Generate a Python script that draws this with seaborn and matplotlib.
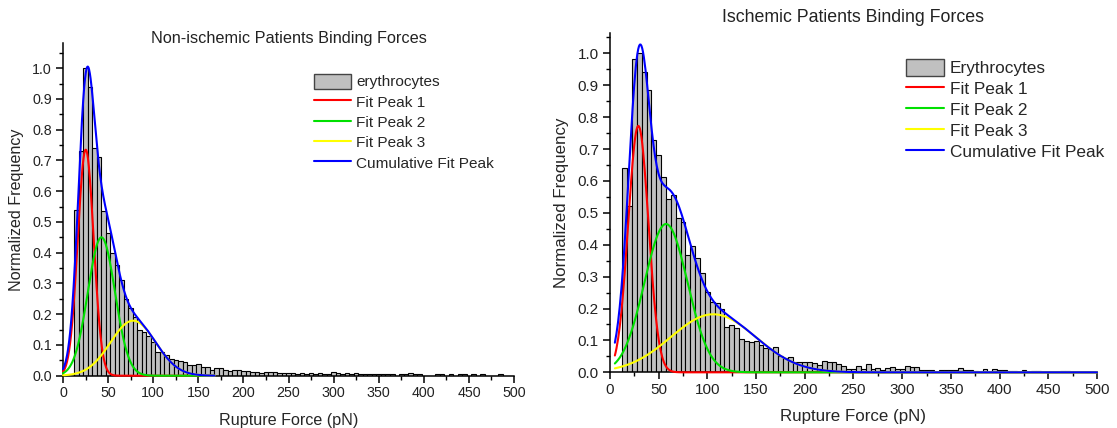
import numpy as np
import pandas as pd
import matplotlib
matplotlib.use("Agg")
import matplotlib.pyplot as plt
import seaborn as sns
from matplotlib.ticker import MultipleLocator
from matplotlib.patches import Patch
from matplotlib.lines import Line2D

# ── Histogram data (normalized frequency per 5 pN bin, first bin 12.5–17.5 pN) ──
BIN_START = 12.5
BIN_WIDTH = 5.0

NONISCH_FREQ = [
    0.54, 0.73, 1.00, 0.94, 0.74, 0.71, 0.535, 0.463, 0.40, 0.36,      # 15–60
    0.31, 0.25, 0.22, 0.19, 0.149, 0.143, 0.129, 0.11, 0.078, 0.078,  # 65–110
    0.067, 0.053, 0.051, 0.048, 0.046, 0.035, 0.035, 0.037, 0.027, 0.027,  # 115–160
    0.018, 0.024, 0.024, 0.018, 0.015, 0.017, 0.019, 0.014, 0.014, 0.012,  # 165–210
    0.011, 0.009, 0.012, 0.012, 0.012, 0.009, 0.008, 0.008, 0.008, 0.007,  # 215–260
    0.010, 0.007, 0.009, 0.007, 0.008, 0.007, 0.005, 0.011, 0.008, 0.007,  # 265–310
    0.010, 0.005, 0.008, 0.005, 0.004, 0.004, 0.004, 0.004, 0.004, 0.004,  # 315–360
    0.004, 0.0, 0.005, 0.005, 0.008, 0.005, 0.005, 0.0, 0.0, 0.0,          # 365–410
    0.005, 0.005, 0.0, 0.005, 0.0, 0.005, 0.005, 0.0, 0.005, 0.0,          # 415–460
    0.005, 0.0, 0.0, 0.0, 0.005,                                           # 465–485
]

ISCH_FREQ = [
    0.642, 0.52, 0.984, 1.00, 0.943, 0.885, 0.73, 0.68, 0.613, 0.545,      # 15–60
    0.556, 0.485, 0.472, 0.368, 0.397, 0.36, 0.312, 0.253, 0.222, 0.216,   # 65–110
    0.20, 0.143, 0.148, 0.138, 0.104, 0.098, 0.096, 0.098, 0.086, 0.075,   # 115–160
    0.072, 0.078, 0.05, 0.045, 0.047, 0.033, 0.033, 0.033, 0.033, 0.03,   # 165–210
    0.023, 0.037, 0.031, 0.031, 0.025, 0.021, 0.01, 0.01, 0.019, 0.009,   # 215–260
    0.025, 0.01, 0.013, 0.007, 0.013, 0.016, 0.01, 0.01, 0.019, 0.017,    # 265–310
    0.017, 0.008, 0.007, 0.006, 0.002, 0.006, 0.006, 0.008, 0.008, 0.013, # 315–360
    0.007, 0.006, 0.004, 0.0, 0.009, 0.002, 0.009, 0.007, 0.006, 0.004,   # 365–410
    0.004, 0.0, 0.007, 0.0, 0.005, 0.005, 0.0, 0.0, 0.0, 0.0,             # 415–460
    0.005, 0.005,                                                          # 465–470
]

# ── Gaussian fit peaks: (centre pN, amplitude, sigma pN) ────────────────────
NONISCH_PEAKS = [(25.2, 0.735, 8.8), (42.6, 0.45, 15.0), (77.7, 0.179, 25.0)]
ISCH_PEAKS    = [(29.1, 0.773, 10.4), (57.5, 0.465, 22.1), (106.0, 0.182, 43.6)]
NONISCH_FIT_RANGE = (0, 168)
ISCH_FIT_RANGE    = (5, 500)

PEAK_COLORS = ["#ff0000", "#00e000", "#ffff00"]
CUM_COLOR   = "#0000ff"
BAR_COLOR   = "#c0c0c0"

# ── Style ──────────────────────────────────────────────────────────────────
sns.set_theme(style="ticks")
plt.rcParams.update({
    "font.family": ["Liberation Sans", "DejaVu Sans"],
    "axes.spines.top": False,
    "axes.spines.right": False,
    "axes.linewidth": 1.1,
    "axes.edgecolor": "black",
    "xtick.color": "black",
    "ytick.color": "black",
    "xtick.labelcolor": "#222222",
    "ytick.labelcolor": "#222222",
    "xtick.direction": "out",
    "ytick.direction": "out",
    "xtick.major.size": 5,
    "ytick.major.size": 5,
    "xtick.minor.size": 3,
    "ytick.minor.size": 3,
    "xtick.major.width": 1.1,
    "ytick.major.width": 1.1,
    "xtick.minor.width": 1.0,
    "ytick.minor.width": 1.0,
    "xtick.major.pad": 2.5,
    "ytick.major.pad": 3,
})


def gauss(x, c, a, s):
    return a * np.exp(-(x - c) ** 2 / (2 * s ** 2))


def draw_panel(ax, freq, peaks, fit_range, ymax, bar_label, fs, lab_fs):
    n = len(freq)
    lo, hi = BIN_START, BIN_START + BIN_WIDTH * n
    df = pd.DataFrame({"force": lo + BIN_WIDTH * (np.arange(n) + 0.5), "freq": freq})
    sns.histplot(data=df, x="force", weights="freq", binwidth=BIN_WIDTH,
                 binrange=(lo, hi), color=BAR_COLOR, edgecolor="black",
                 linewidth=0.8, alpha=1.0, ax=ax)

    xs = np.linspace(fit_range[0], fit_range[1], 600)
    total = np.zeros_like(xs)
    for (c, a, s), col in zip(peaks, PEAK_COLORS):
        ys = gauss(xs, c, a, s)
        total += ys
        sns.lineplot(x=xs, y=ys, color=col, lw=1.5, ax=ax, sort=False,
                     zorder=3, clip_on=False)
    sns.lineplot(x=xs, y=total, color=CUM_COLOR, lw=1.5, ax=ax, sort=False,
                 zorder=3, clip_on=False)

    ax.set_xlim(0, 500)
    ax.set_ylim(0, ymax)
    ax.xaxis.set_major_locator(MultipleLocator(50))
    ax.xaxis.set_minor_locator(MultipleLocator(25))
    ax.yaxis.set_minor_locator(MultipleLocator(0.05))
    yt = np.round(np.arange(0, 1.01, 0.1), 1)
    ax.set_yticks(yt)
    ax.set_yticklabels([f"{v:.1f}" for v in yt])
    ax.tick_params(labelsize=fs)
    ax.set_xlabel("Rupture Force (pN)", fontsize=lab_fs, labelpad=9)
    ax.set_ylabel("Normalized Frequency", fontsize=lab_fs, labelpad=6)

    handles = [Patch(facecolor=BAR_COLOR, edgecolor="#444444", lw=1.0)]
    handles += [Line2D([], [], color=c, lw=1.5) for c in PEAK_COLORS + [CUM_COLOR]]
    labels = [bar_label, "Fit Peak 1", "Fit Peak 2", "Fit Peak 3", "Cumulative Fit Peak"]
    return handles, labels


fig = plt.figure(figsize=(11.17, 4.28), dpi=100)
ax1 = fig.add_axes([0.0564, 0.1222, 0.4038, 0.7773])
ax2 = fig.add_axes([0.5461, 0.1301, 0.4360, 0.7928])

h1, l1 = draw_panel(ax1, NONISCH_FREQ, NONISCH_PEAKS, NONISCH_FIT_RANGE, 1.082,
                    "erythrocytes", 10.3, 11.6)
h2, l2 = draw_panel(ax2, ISCH_FREQ, ISCH_PEAKS, ISCH_FIT_RANGE, 1.064,
                    "Erythrocytes", 11.0, 12.2)

ax1.legend(h1, l1, loc="upper left", bbox_to_anchor=(0.542, 0.926), frameon=False,
           fontsize=11.1, handlelength=2.4, handleheight=1.1, labelspacing=0.3,
           handletextpad=0.35, borderaxespad=0)
ax2.legend(h2, l2, loc="upper left", bbox_to_anchor=(0.593, 0.943), frameon=False,
           fontsize=12.4, handlelength=2.25, handleheight=1.1, labelspacing=0.22,
           handletextpad=0.3, borderaxespad=0)

fig.text(289 / 1117, 1 - 38 / 428, "Non-ischemic Patients Binding Forces",
         ha="center", va="center", fontsize=11.7, color="#222222")
fig.text(853 / 1117, 1 - 18 / 428, "Ischemic Patients Binding Forces",
         ha="center", va="center", fontsize=12.8, color="#222222")

fig.savefig("out.png", dpi=100)
